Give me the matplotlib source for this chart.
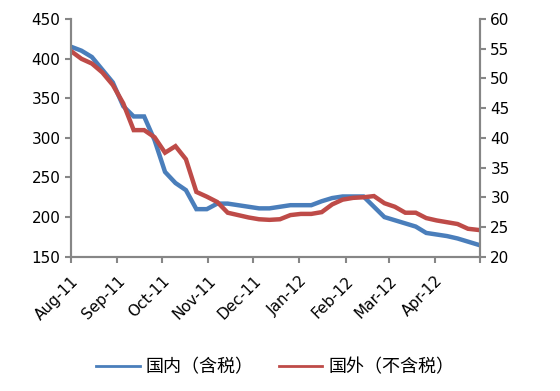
import pandas as pd
import matplotlib
matplotlib.use("Agg")
import matplotlib.pyplot as plt

plt.rcParams["font.family"] = ["DejaVu Sans", "Noto Sans CJK SC"]

# 周度数据，2011-08-01 起
dates = pd.date_range("2011-08-01", periods=40, freq="7D")

domestic = [415, 410, 402, 386, 370, 340, 327, 327, 297, 257,
            243, 234, 210, 210, 217, 217, 215, 213, 211, 211,
            213, 215, 215, 215, 220, 224, 226, 226, 226, 213,
            200, 196, 192, 188, 180, 178, 176, 173, 169, 165]

foreign = [54.6, 53.3, 52.5, 51.0, 48.9, 45.8, 41.3, 41.3, 40.1, 37.5,
           38.6, 36.4, 30.9, 30.1, 29.2, 27.4, 27.0, 26.6, 26.3, 26.2,
           26.3, 27.0, 27.2, 27.2, 27.5, 28.8, 29.6, 29.9, 30.0, 30.2,
           29.0, 28.4, 27.4, 27.4, 26.5, 26.1, 25.8, 25.5, 24.7, 24.5]

labels = ["国内（含税）", "国外（不含税）"]
month_ticks = pd.date_range("2011-08-01", "2012-05-01", freq="MS")

BLUE = "#4A7EBB"
RED = "#BE4B48"
GRAY = "#868686"

fig = plt.figure(figsize=(5.6, 3.91), dpi=100)
ax = fig.add_axes([0.1268, 0.3435, 0.7302, 0.6079])
ax2 = ax.twinx()

l1, = ax.plot(dates, domestic, color=BLUE, lw=3.2, solid_joinstyle="miter")
l2, = ax2.plot(dates, foreign, color=RED, lw=3.2, solid_joinstyle="miter")

ax.set_ylim(150, 450)
ax.set_yticks(range(150, 451, 50))
ax2.set_ylim(20, 60)
ax2.set_yticks(range(20, 61, 5))

ax.set_xlim(month_ticks[0], month_ticks[-1])
ax.set_xticks(month_ticks)
ax.set_xticklabels([d.strftime("%b-%y") for d in month_ticks[:-1]] + [""],
                   rotation=45, ha="right", rotation_mode="anchor")

for a in (ax, ax2):
    for s in a.spines.values():
        s.set_color(GRAY)
        s.set_linewidth(1.5)
    a.spines["top"].set_visible(False)
    a.tick_params(colors=GRAY, width=1.5, length=4, labelcolor="black",
                  labelsize=11)
ax.tick_params(axis="x", pad=8)

leg = fig.legend([l1, l2], labels, loc="center", bbox_to_anchor=(0.492, 0.061),
                 ncol=2, frameon=False, handlelength=2.4, handletextpad=0.35,
                 columnspacing=1.4,
                 prop={"family": ["Noto Sans CJK SC"], "size": 13})
for h in leg.legend_handles:
    h.set_linewidth(2)

fig.savefig("out.png", dpi=100)
